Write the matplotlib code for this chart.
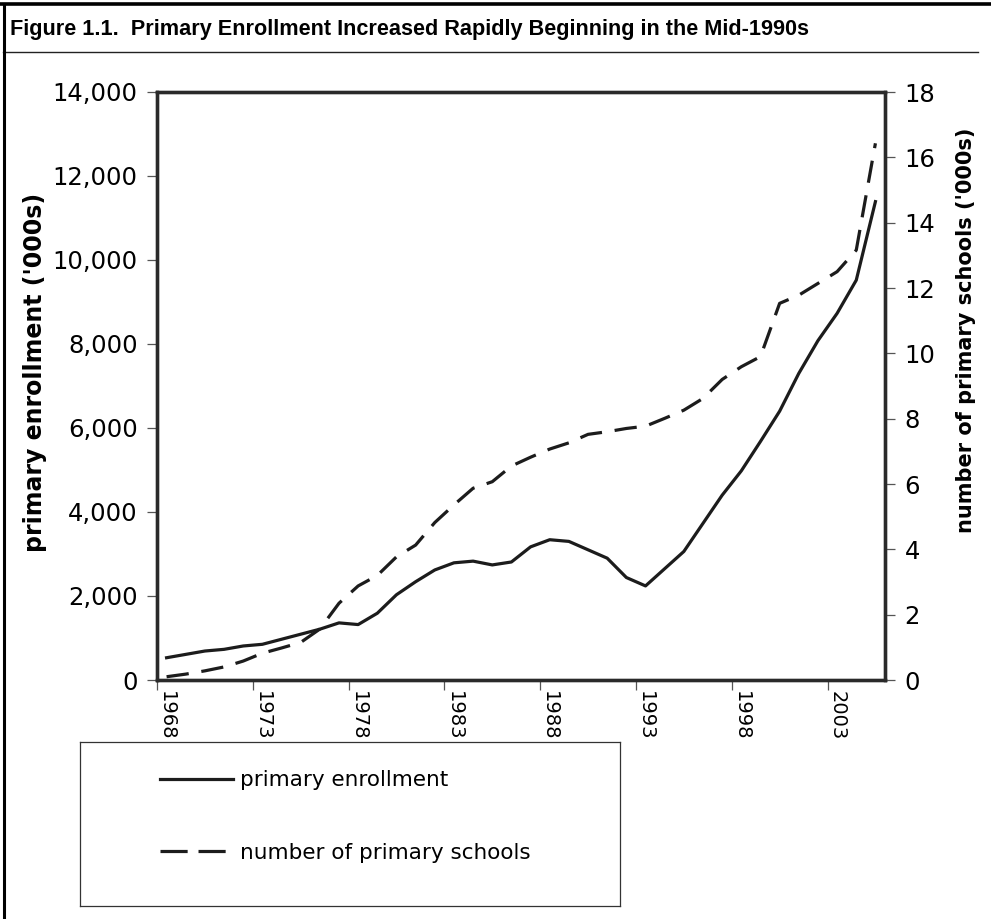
import matplotlib
matplotlib.use("Agg")
import matplotlib.pyplot as plt
import numpy as np
from matplotlib.lines import Line2D
from matplotlib.ticker import FuncFormatter

plt.rcParams['font.family'] = ['DejaVu Sans']

years = list(range(1968, 2006))

# primary enrollment ('000s), left axis
enrollment = [530, 610, 690, 730, 810, 850, 970, 1090, 1210, 1360,
              1320, 1590, 2030, 2340, 2620, 2790, 2830, 2740, 2810, 3170,
              3340, 3300, 3100, 2900, 2440, 2240, 2650, 3060, 3730, 4400,
              4980, 5680, 6400, 7300, 8080, 8730, 9520, 11390]

# number of primary schools ('000s), right axis
schools = [0.10, 0.18, 0.28, 0.40, 0.58, 0.82, 0.98, 1.15, 1.56, 2.35,
           2.88, 3.20, 3.77, 4.13, 4.82, 5.36, 5.87, 6.07, 6.55, 6.82,
           7.07, 7.26, 7.52, 7.60, 7.70, 7.77, 8.01, 8.26, 8.62, 9.20,
           9.59, 9.90, 11.53, 11.78, 12.14, 12.50, 13.16, 16.43]

year_labels = [str(y) for y in years[::5]]

title = "Figure 1.1.  Primary Enrollment Increased Rapidly Beginning in the Mid-1990s"
left_label = "primary enrollment ('000s)"
right_label = "number of primary schools ('000s)"

W, H = 991, 919
fig = plt.figure(figsize=(W / 100, H / 100), dpi=100)

ax = fig.add_axes([157 / W, (H - 680) / H, 728 / W, 588 / H])
ax2 = ax.twinx()

x = np.arange(len(years))
line_col = '#1c1c1c'
l1, = ax.plot(x, enrollment, color=line_col, lw=2.3, label='primary enrollment')
l2, = ax2.plot(x, schools, color=line_col, lw=2.3, dashes=(7, 4),
               label='number of primary schools')

ax.set_xlim(-0.5, len(years) - 0.5)
ax.set_ylim(0, 14000)
ax2.set_ylim(0, 18)
ax.set_yticks(np.arange(0, 14001, 2000))
ax2.set_yticks(np.arange(0, 19, 2))
ax.yaxis.set_major_formatter(FuncFormatter(lambda v, p: f'{int(v):,}'))

# category axis: ticks between categories, labels centred on categories
ax.set_xticks(np.arange(-0.5, 35, 5))
ax.set_xticklabels([])
ax.set_xticks(x[::5], minor=True)
ax.set_xticklabels(year_labels, minor=True, rotation=-90, ha='center', va='top')

for a in (ax, ax2):
    for s in a.spines.values():
        s.set_linewidth(2.4)
        s.set_color('#2a2a2a')
    a.tick_params(which='major', direction='out', length=7, width=0.9,
                  color='#555555', labelsize=17.5, pad=7)
ax.tick_params(axis='x', which='minor', length=0, pad=8, labelsize=14)
ax.tick_params(axis='x', which='major', pad=0)
ax2.tick_params(axis='y', pad=7)

ax.set_ylabel(left_label, fontsize=17, fontweight='bold')
ax.yaxis.set_label_coords((47 - 157) / 728, (680 - 372) / 588)
ax2.set_ylabel(right_label, fontsize=15, fontweight='bold')
ax2.yaxis.set_label_coords((956 - 157) / 728, (680 - 330) / 588)

# legend in its own box below the chart
lax = fig.add_axes([80 / W, (H - 906) / H, 540 / W, 164 / H])
lax.set_xticks([])
lax.set_yticks([])
for s in lax.spines.values():
    s.set_linewidth(0.9)
    s.set_color('#333333')
h2 = Line2D([], [], color=line_col, lw=2.3, dashes=(8.5, 3.4))
lax.legend(handles=[l1, h2], labels=[l1.get_label(), l2.get_label()],
           loc='center left', bbox_to_anchor=(0.148, 0.545),
           frameon=False, borderpad=0, borderaxespad=0, handlelength=3.4,
           handletextpad=0.33, labelspacing=2.45, fontsize=15.5)

# title and frame
fig.text(10 / W, 1 - 30 / H, title, ha='left', va='center', fontsize=15.6,
         fontweight='bold', family=['Liberation Sans', 'DejaVu Sans'])
fig.add_artist(Line2D([3 / W, 978 / W], [1 - 52 / H, 1 - 52 / H],
                      color='#222222', lw=1.0))
fig.add_artist(Line2D([0, 1], [1 - 4 / H, 1 - 4 / H], color='black', lw=2.6))
fig.add_artist(Line2D([4 / W, 4 / W], [0, 1 - 4 / H], color='black', lw=2.2))

fig.savefig('out.png', dpi=100)
